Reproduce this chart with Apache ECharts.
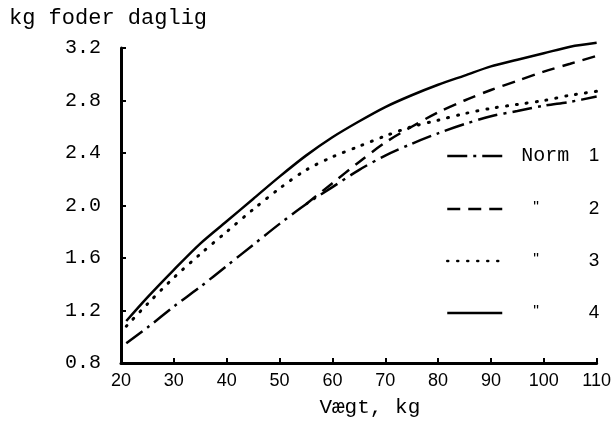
<!DOCTYPE html>
<html>
<head>
<meta charset="utf-8">
<title>kg foder daglig</title>
<script src="https://cdn.jsdelivr.net/npm/echarts@6/dist/echarts.min.js"></script>
<style>
html, body { margin: 0; padding: 0; background: #fff; }
#chart { width: 614px; height: 429px; }
</style>
</head>
<body>
<div id="chart"></div>
<script>
// vægt (kg) og foder pr. dag (kg)
var weights = [21, 25, 30, 35, 40, 45, 50, 55, 60, 65, 70, 75, 80, 85, 90, 95, 100, 105, 110];
var weights2 = [55, 60, 65, 70, 75, 80, 85, 90, 95, 100, 105, 110];
var norm1 = [0.95, 1.07, 1.23, 1.38, 1.54, 1.70, 1.86, 2.01, 2.14, 2.27, 2.38, 2.47, 2.55, 2.62, 2.68, 2.72, 2.76, 2.79, 2.83];
var norm2 = [2.01, 2.17, 2.33, 2.48, 2.60, 2.71, 2.80, 2.88, 2.95, 3.02, 3.08, 3.14];
var norm3 = [1.08, 1.25, 1.45, 1.63, 1.80, 1.97, 2.13, 2.27, 2.37, 2.45, 2.53, 2.60, 2.65, 2.70, 2.74, 2.77, 2.80, 2.84, 2.87];
var norm4 = [1.12, 1.30, 1.51, 1.71, 1.88, 2.05, 2.22, 2.38, 2.52, 2.64, 2.75, 2.84, 2.92, 2.99, 3.06, 3.11, 3.16, 3.21, 3.24];
var names = ['Norm 1', 'Norm 2', 'Norm 3', 'Norm 4'];
var legendRows = [141, 194, 246, 298];

var mono = 'Liberation Mono';
var sans = 'Liberation Sans';

function pairs(xs, ys) {
    return xs.map(function (x, i) { return [x, ys[i]]; });
}

function legendFor(i) {
    return {
        data: [names[i]],
        left: 441,
        top: legendRows[i],
        itemWidth: 55,
        itemHeight: 14,
        selectedMode: false,
        itemStyle: { opacity: 0 },
        lineStyle: { width: 2.5 },
        formatter: function (name) {
            var d = name.split(' ')[1];
            if (d === '1') return '{p1|}{n|Norm}{d|' + d + '}';
            return '{p2|}{q|"}{d|' + d + '}';
        },
        textStyle: {
            color: '#000',
            lineHeight: 20,
            rich: {
                p1: { width: 14 },
                p2: { width: 26 },
                n: { width: 66, fontFamily: mono, fontSize: 20, color: '#000' },
                q: { width: 54, fontFamily: sans, fontSize: 16, color: '#000' },
                d: { width: 12, align: 'right', fontFamily: sans, fontSize: 19, color: '#000' }
            }
        }
    };
}

function lineSeries(i, data, type, cap, width) {
    return {
        name: names[i],
        type: 'line',
        data: data,
        smooth: 0.3,
        symbol: 'none',
        silent: true,
        clip: false,
        color: '#000',
        lineStyle: { color: '#000', width: width, type: type, cap: cap }
    };
}

var chart = echarts.init(document.getElementById('chart'));
var option = {
    backgroundColor: '#fff',
    animation: false,
    color: ['#000'],
    title: {
        text: 'kg foder daglig',
        left: 4,
        top: 2,
        textStyle: { fontFamily: mono, fontSize: 22, fontWeight: 'normal', color: '#000' }
    },
    legend: [legendFor(0), legendFor(1), legendFor(2), legendFor(3)],
    grid: { left: 121, right: 14, top: 48, bottom: 66 },
    xAxis: {
        type: 'value',
        min: 20,
        max: 110,
        interval: 10,
        name: 'Vægt, kg',
        nameLocation: 'middle',
        nameGap: 34,
        nameTextStyle: { fontFamily: mono, fontSize: 21, color: '#000', padding: [0, 0, 0, 22] },
        axisLine: { lineStyle: { color: '#000', width: 3 } },
        axisTick: { inside: true, length: 5, lineStyle: { color: '#000', width: 2 } },
        axisLabel: { fontFamily: sans, fontSize: 18, color: '#000', margin: 9 },
        splitLine: { show: false }
    },
    yAxis: {
        type: 'value',
        min: 0.8,
        max: 3.2,
        interval: 0.4,
        axisLine: { show: true, lineStyle: { color: '#000', width: 3 } },
        axisTick: { show: true, inside: true, length: 5, lineStyle: { color: '#000', width: 2 } },
        axisLabel: {
            fontFamily: mono, fontSize: 20, color: '#000', margin: 20,
            formatter: function (v) { return v.toFixed(1); }
        },
        splitLine: { show: false }
    },
    series: [
        lineSeries(0, pairs(weights, norm1), [20, 6, 3, 6], 'butt', 2.5),
        lineSeries(1, pairs(weights2, norm2), [13, 8], 'butt', 2.5),
        lineSeries(2, pairs(weights, norm3), [1, 9], 'round', 3),
        lineSeries(3, pairs(weights, norm4), 'solid', 'butt', 2.5)
    ]
};
chart.setOption(option);
</script>
</body>
</html>
